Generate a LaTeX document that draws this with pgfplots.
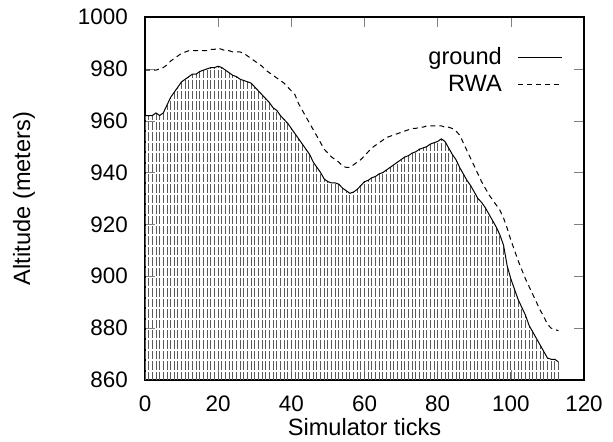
\documentclass[border=0pt]{standalone}
\usepackage{fontspec}
\setmainfont{Liberation Sans}
\usepackage{pgfplots}
\pgfplotsset{compat=1.18}
\usetikzlibrary{calc}

\pgfplotstableread{
x ground rwa
0 962 979.5
1 962 979.5
2 962 979.5
3 963 979.5
4 962 980
5 963 980.5
6 966 981.5
7 969 983
8 971 984
9 973 985
10 975 986
11 976 986.5
12 977 987
13 978 987
14 978 987
15 979 987
16 979.5 987
17 980 987
18 980.5 987.5
19 980.5 987.5
20 981 988
21 980.5 987.5
22 979.5 987
23 978.5 987
24 977.5 986.5
25 977 986.5
26 976 986.5
27 975.5 986
28 975 985
29 974.5 984
30 973 983
31 971.5 982
32 970 981
33 968.5 979.5
34 967 978.5
35 965 977.5
36 964 976.5
37 962 975.5
38 960.5 974.5
39 959 973
40 957 971.5
41 955 970
42 953 966.5
43 951 964
44 949 961.5
45 947 959
46 944 956.5
47 942 954
48 940 951.5
49 937.5 949
50 936.5 947.5
51 936 946
52 936 945
53 935.5 944
54 934 942.5
55 933 942
56 932 942
57 932.5 943
58 933.5 944
59 935 945
60 936.5 946.5
61 937 948
62 938 949.5
63 938.5 950.5
64 939.5 951.5
65 940 952.5
66 941 953.5
67 942 954
68 943 954.5
69 944 955
70 945 955.5
71 946 956
72 946.5 956.5
73 947.5 957
74 948 957
75 949 957.5
76 949.5 957.5
77 950 958
78 951 958
79 951.5 958
80 952 958
81 953 958
82 952 957.5
83 949.5 957.5
84 947 957
85 945 956
86 942 954.5
87 939.5 951.5
88 937 948.5
89 935 945.5
90 932.5 942.5
91 930 939.5
92 928.5 936.5
93 926.5 934
94 924 931.5
95 921.5 929.5
96 919 927.5
97 916 925.5
98 912 922.5
99 904 918.5
100 899 914
101 895 910
102 891 906
103 888 902.5
104 885 899
105 881 896
106 878.5 893
107 876 890
108 873.5 887
109 871 884.5
110 868.5 881.5
111 868 880
112 868 879.5
113 867 879
}\alt

\begin{document}
\fontsize{11.8}{14}\selectfont
\begin{tikzpicture}
\begin{axis}[
    name=ax,
    scale only axis,
    width=219.5pt,
    height=181.5pt,
    xmin=0, xmax=120,
    ymin=860, ymax=1000,
    xtick={0,20,...,120},
    ytick={860,880,...,1000},
    tick align=inside,
    major tick length=5pt,
    axis line style={line width=0.9pt},
    /pgf/number format/assume math mode=true,
    /pgf/number format/1000 sep={},
    ticklabel style={font=\fontsize{11.2}{13}\selectfont},
    yticklabel style={xshift=-4.5pt},
    xticklabel style={yshift=-4pt},
    xlabel={Simulator ticks},
    ylabel={Altitude (meters)},
    label style={font=\fontsize{11.8}{14}\selectfont},
    xlabel style={at={(axis description cs:0.5,0)}, anchor=center, inner sep=0pt, yshift=-23.5pt},
    ylabel style={at={(axis description cs:-0.2756,0.5)}, anchor=center},
    legend style={draw=none, fill=none, at={(0.965,0.94)}, anchor=north east,
        row sep=-0.5pt, column sep=6pt, font=\fontsize{11.8}{14}\selectfont},
    legend cell align=right,
    legend plot pos=right,
    legend image post style={xscale=1.27},
]
\addplot[ycomb, black!65, line width=0.45pt, dash pattern=on 4.2pt off 1pt, forget plot] table[x=x, y=ground] {\alt};
\addplot[black, line width=0.5pt] table[x=x, y=ground] {\alt};
\addlegendentry{ground}
\addplot[black, line width=0.5pt, dash pattern=on 2.5pt off 2pt] table[x=x, y=rwa] {\alt};
\addlegendentry{RWA}
\end{axis}
\pgfresetboundingbox
\path ($(ax.south west)+(-72.5pt,-31pt)$) rectangle ($(ax.north east)+(14.5pt,8.5pt)$);
\end{tikzpicture}
\end{document}
